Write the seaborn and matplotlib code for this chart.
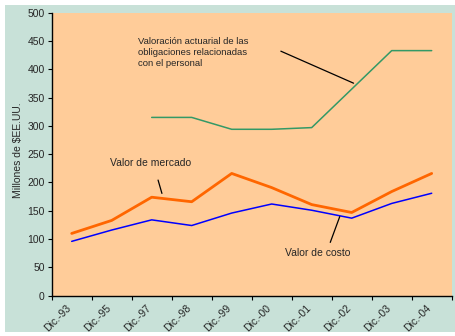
import matplotlib
matplotlib.use("Agg")
import matplotlib.pyplot as plt
from matplotlib.patches import Rectangle
from matplotlib.transforms import ScaledTranslation
import numpy as np
import pandas as pd
import seaborn as sns

# Year-end reporting dates
periods = ["Dic.-93", "Dic.-95", "Dic.-97", "Dic.-98", "Dic.-99",
           "Dic.-00", "Dic.-01", "Dic.-02", "Dic.-03", "Dic.-04"]

# Millions of US dollars
valor_mercado = [110, 133, 174, 166, 216, 191, 161, 147, 184, 216]
valor_costo = [96, 116, 134, 124, 146, 162, 151, 137, 163, 181]
valoracion_actuarial = [np.nan, np.nan, 315, 315, 294, 294, 297, 365, 433, 433]

y_ticks = list(range(0, 501, 50))

sns.set_style("white")
plt.rcParams["font.family"] = ["Liberation Sans", "DejaVu Sans"]

PEACH = "#FFCC99"
TEAL = "#C8E1D8"
ORANGE = "#FF6600"
BLUE = "#0000FF"
GREEN = "#339966"

fig = plt.figure(figsize=(4.55, 3.36), dpi=100, facecolor="white")
fig.patches.append(Rectangle((5 / 455, 4 / 336), 450 / 455, 327 / 336,
                             transform=fig.transFigure, facecolor=TEAL,
                             edgecolor="none", zorder=-10))
ax = fig.add_axes([51.7 / 455, 40.3 / 336, 400 / 455, 283 / 336])
ax.set_facecolor(PEACH)

x = np.arange(len(periods))
df = pd.DataFrame({"x": x, "mercado": valor_mercado, "costo": valor_costo,
                   "actuarial": valoracion_actuarial})

sns.lineplot(data=df, x="x", y="actuarial", ax=ax, color=GREEN, lw=1.1)
sns.lineplot(data=df, x="x", y="costo", ax=ax, color=BLUE, lw=1.1)
sns.lineplot(data=df, x="x", y="mercado", ax=ax, color=ORANGE, lw=2.0)

ax.set_xlim(-0.5, len(periods) - 0.5)
ax.set_ylim(0, 500)
ax.set_yticks(y_ticks)
ax.set_yticklabels([str(v) for v in y_ticks], fontsize=7.5)

# tick marks sit between categories, labels at category centres
ax.set_xticks(np.arange(-0.5, len(periods), 1.0))
ax.set_xticklabels([])
ax.set_xticks(x, minor=True)
ax.tick_params(axis="x", which="minor", length=0, pad=6)
ax.tick_params(axis="x", which="major", length=3, width=0.8, color="black",
               direction="out", bottom=True)
ax.tick_params(axis="y", length=3, width=0.8, color="black", direction="out",
               left=True, pad=2)
ax.set_xticklabels(periods, minor=True, rotation=45, ha="right", va="top",
                   rotation_mode="anchor", fontsize=7.5)
shift = ScaledTranslation(-6 / 100, 1 / 100, fig.dpi_scale_trans)
for lbl in ax.get_xticklabels(minor=True):
    lbl.set_transform(lbl.get_transform() + shift)

for side in ("top", "right"):
    ax.spines[side].set_visible(False)
for side in ("left", "bottom"):
    ax.spines[side].set_color("black")
    ax.spines[side].set_linewidth(1.0)

ax.set_xlabel("")
ax.set_ylabel("Millones de $EE.UU.", fontsize=7.5)
ax.yaxis.set_label_coords(-0.072, 0.515)

# Series labels with leader lines
ax.annotate("", xy=(7.11, 373.5), xytext=(5.165, 434),
            arrowprops=dict(arrowstyle="-", color="black", lw=0.9))
ax.text(1.65, 457, "Valoración actuarial de las\nobligaciones relacionadas\ncon el personal",
        fontsize=6.8, ha="left", va="top", linespacing=1.3)

ax.annotate("", xy=(2.275, 176), xytext=(2.14, 209),
            arrowprops=dict(arrowstyle="-", color="black", lw=0.9))
ax.text(0.96, 235, "Valor de mercado", fontsize=7.5, ha="left", va="center")

ax.annotate("", xy=(6.725, 144.3), xytext=(6.44, 89.6),
            arrowprops=dict(arrowstyle="-", color="black", lw=0.9))
ax.text(5.33, 76, "Valor de costo", fontsize=7.5, ha="left", va="center")

fig.savefig("out.png", dpi=100, facecolor="white")
